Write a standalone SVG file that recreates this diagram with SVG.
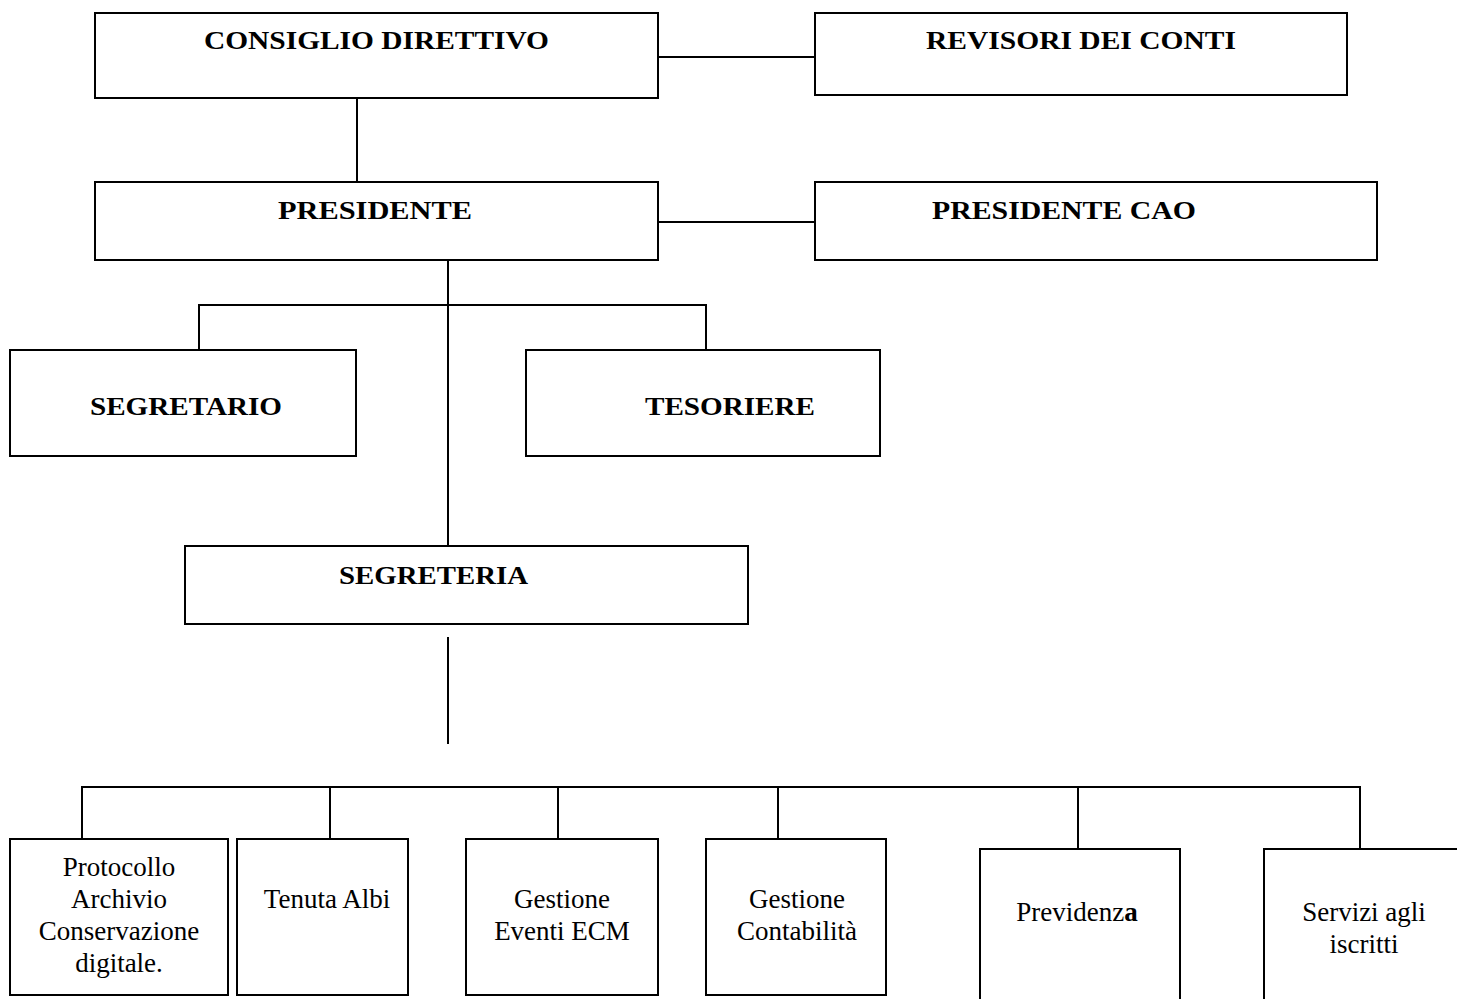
<svg xmlns="http://www.w3.org/2000/svg" width="1457" height="999" viewBox="0 0 1457 999">
<style>
.box{fill:#fff;stroke:#000;stroke-width:2}
.ln{fill:none;stroke:#000;stroke-width:2}
.t{font-family:"Liberation Serif","Times New Roman",serif;font-weight:bold;font-size:26px;fill:#000}
.s{font-family:"Liberation Serif","Times New Roman",serif;font-size:27px;fill:#000}
</style>
<rect width="1457" height="999" fill="#fff"/>
<g id="connectors">
<path class="ln" d="M658 57H815"/>
<path class="ln" d="M357 98V182"/>
<path class="ln" d="M658 222H815"/>
<path class="ln" d="M448 260V546"/>
<path class="ln" d="M199 350V305H706V350"/>
<path class="ln" d="M448 637V744"/>
<path class="ln" d="M82 839V787H1360V849"/>
<path class="ln" d="M330 787V839"/>
<path class="ln" d="M558 787V839"/>
<path class="ln" d="M778 787V839"/>
<path class="ln" d="M1078 787V849"/>
</g>
<g id="consiglio"><rect class="box" x="95" y="13" width="563" height="85"/><text class="t" x="204" y="49" textLength="345" lengthAdjust="spacingAndGlyphs">CONSIGLIO DIRETTIVO</text></g>
<g id="revisori"><rect class="box" x="815" y="13" width="532" height="82"/><text class="t" x="926" y="49" textLength="310" lengthAdjust="spacingAndGlyphs">REVISORI DEI CONTI</text></g>
<g id="presidente"><rect class="box" x="95" y="182" width="563" height="78"/><text class="t" x="278" y="219" textLength="194" lengthAdjust="spacingAndGlyphs">PRESIDENTE</text></g>
<g id="presidente-cao"><rect class="box" x="815" y="182" width="562" height="78"/><text class="t" x="932" y="219" textLength="264" lengthAdjust="spacingAndGlyphs">PRESIDENTE CAO</text></g>
<g id="segretario"><rect class="box" x="10" y="350" width="346" height="106"/><text class="t" x="90" y="415" textLength="192" lengthAdjust="spacingAndGlyphs">SEGRETARIO</text></g>
<g id="tesoriere"><rect class="box" x="526" y="350" width="354" height="106"/><text class="t" x="645" y="415" textLength="170" lengthAdjust="spacingAndGlyphs">TESORIERE</text></g>
<g id="segreteria"><rect class="box" x="185" y="546" width="563" height="78"/><text class="t" x="339" y="584" textLength="189" lengthAdjust="spacingAndGlyphs">SEGRETERIA</text></g>
<g id="protocollo"><rect class="box" x="10" y="839" width="218" height="156"/>
<text class="s" text-anchor="middle"><tspan x="119" y="876">Protocollo</tspan><tspan x="119" y="908">Archivio</tspan><tspan x="119" y="940">Conservazione</tspan><tspan x="119" y="972">digitale.</tspan></text></g>
<g id="tenuta"><rect class="box" x="237" y="839" width="171" height="156"/><text class="s" x="327" y="908" text-anchor="middle">Tenuta Albi</text></g>
<g id="eventi"><rect class="box" x="466" y="839" width="192" height="156"/><text class="s" text-anchor="middle"><tspan x="562" y="908">Gestione</tspan><tspan x="562" y="940">Eventi ECM</tspan></text></g>
<g id="contabilita"><rect class="box" x="706" y="839" width="180" height="156"/><text class="s" text-anchor="middle"><tspan x="797" y="908">Gestione</tspan><tspan x="797" y="940">Contabilità</tspan></text></g>
<g id="previdenza"><path class="box" d="M980 1005V849H1180V1005"/><text class="s" x="1077" y="921" text-anchor="middle">Previdenz<tspan font-weight="bold">a</tspan></text></g>
<g id="servizi"><path class="box" d="M1264 1005V849H1465"/><text class="s" text-anchor="middle"><tspan x="1364" y="921">Servizi agli</tspan><tspan x="1364" y="953">iscritti</tspan></text></g>
</svg>
